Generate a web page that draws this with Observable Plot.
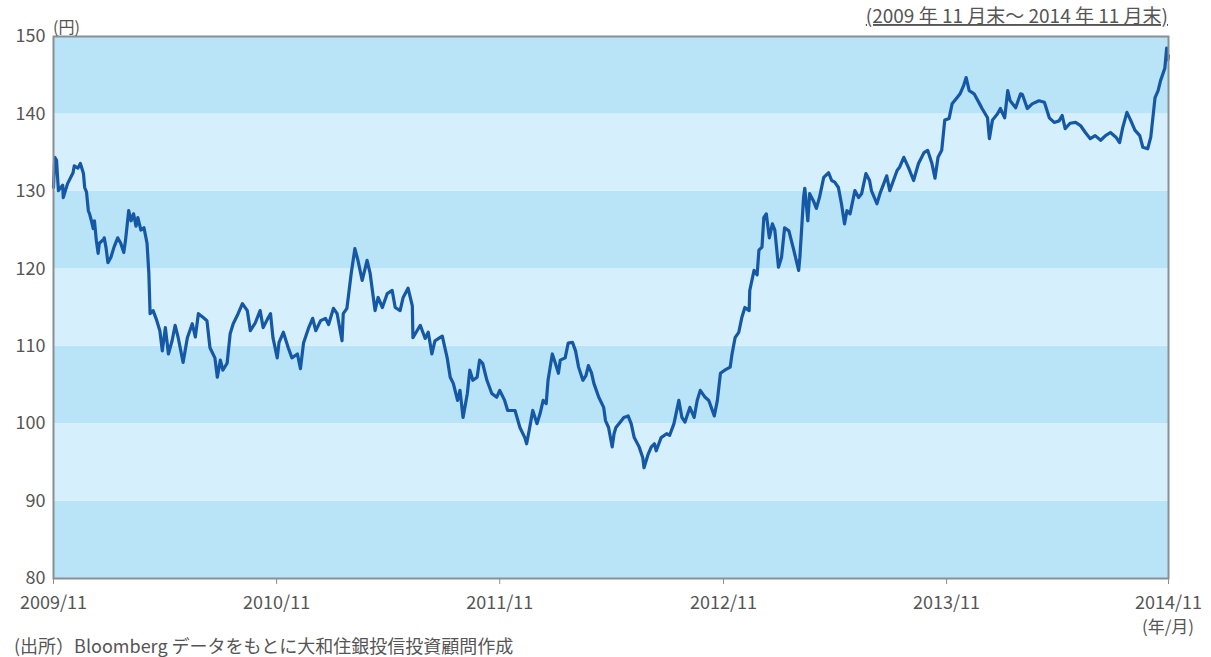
<!DOCTYPE html>
<html>
<head>
<meta charset="utf-8">
<script src="https://cdn.jsdelivr.net/npm/d3@7"></script>
<script src="https://cdn.jsdelivr.net/npm/@observablehq/plot@0.6"></script>
<style>
  html, body { margin: 0; padding: 0; background: #fff; }
  #chart { width: 1211px; height: 657px; }
</style>
</head>
<body>
<div id="chart"></div>
<script>
// Dates and EUR/JPY values (円)
const dates = [
"2009-11-30","2009-12-02","2009-12-05","2009-12-08","2009-12-15","2009-12-16","2009-12-23","2010-01-01","2010-01-03","2010-01-09",
"2010-01-13","2010-01-18","2010-01-20","2010-01-23","2010-01-26","2010-01-28","2010-01-31","2010-02-03","2010-02-05","2010-02-08",
"2010-02-11","2010-02-13","2010-02-20","2010-02-21","2010-02-24","2010-02-27","2010-03-04","2010-03-09","2010-03-15","2010-03-20",
"2010-03-25","2010-03-28","2010-04-02","2010-04-06","2010-04-10","2010-04-14","2010-04-17","2010-04-22","2010-04-27","2010-05-02",
"2010-05-05","2010-05-07","2010-05-12","2010-05-18","2010-05-23","2010-05-27","2010-06-01","2010-06-06","2010-06-12","2010-06-17",
"2010-06-22","2010-06-30","2010-07-07","2010-07-15","2010-07-20","2010-07-25","2010-08-02","2010-08-08","2010-08-13","2010-08-21",
"2010-08-25","2010-08-30","2010-09-03","2010-09-10","2010-09-15","2010-09-20","2010-09-28","2010-10-05","2010-10-13","2010-10-18",
"2010-10-26","2010-11-03","2010-11-08","2010-11-15","2010-11-20","2010-11-24","2010-12-01","2010-12-04","2010-12-11","2010-12-19",
"2010-12-25","2011-01-03","2011-01-08","2011-01-13","2011-01-21","2011-01-28","2011-02-02","2011-02-10","2011-02-18","2011-02-23",
"2011-03-03","2011-03-09","2011-03-17","2011-03-19","2011-03-25","2011-04-01","2011-04-07","2011-04-12","2011-04-19","2011-04-27",
"2011-05-02","2011-05-10","2011-05-15","2011-05-22","2011-05-30","2011-06-07","2011-06-12","2011-06-20","2011-06-25","2011-07-03",
"2011-07-10","2011-07-11","2011-07-23","2011-07-31","2011-08-05","2011-08-11","2011-08-16","2011-08-24","2011-08-28","2011-09-05",
"2011-09-10","2011-09-15","2011-09-22","2011-09-26","2011-10-01","2011-10-08","2011-10-12","2011-10-17","2011-10-24","2011-10-28",
"2011-11-02","2011-11-09","2011-11-17","2011-11-25","2011-11-30","2011-12-08","2011-12-13","2011-12-25","2012-01-02","2012-01-10",
"2012-01-13","2012-01-18","2012-01-23","2012-01-30","2012-02-04","2012-02-09","2012-02-14","2012-02-17","2012-02-24","2012-02-29",
"2012-03-05","2012-03-08","2012-03-16","2012-03-21","2012-03-28","2012-04-02","2012-04-07","2012-04-14","2012-04-19","2012-04-23",
"2012-04-28","2012-05-02","2012-05-10","2012-05-18","2012-05-21","2012-05-26","2012-06-01","2012-06-04","2012-06-07","2012-06-12",
"2012-06-20","2012-06-27","2012-07-02","2012-07-07","2012-07-15","2012-07-21","2012-07-23","2012-07-30","2012-08-04","2012-08-09",
"2012-08-12","2012-08-20","2012-08-29","2012-09-03","2012-09-10","2012-09-18","2012-09-23","2012-09-28","2012-10-06","2012-10-13",
"2012-10-18","2012-10-23","2012-10-31","2012-11-06","2012-11-15","2012-11-20","2012-11-25","2012-12-02","2012-12-11","2012-12-14",
"2012-12-19","2012-12-25","2012-12-30","2013-01-04","2013-01-11","2013-01-12","2013-01-19","2013-01-24","2013-01-27","2013-02-01",
"2013-02-04","2013-02-08","2013-02-13","2013-02-18","2013-02-22","2013-02-28","2013-03-05","2013-03-10","2013-03-17","2013-03-25",
"2013-04-02","2013-04-04","2013-04-10","2013-04-12","2013-04-17","2013-04-20","2013-04-26","2013-05-01","2013-05-06","2013-05-13",
"2013-05-21","2013-05-26","2013-05-31","2013-06-06","2013-06-11","2013-06-16","2013-06-20","2013-06-25","2013-07-03","2013-07-09",
"2013-07-14","2013-07-21","2013-07-27","2013-07-30","2013-08-08","2013-08-13","2013-08-24","2013-08-29","2013-09-10","2013-09-14",
"2013-09-21","2013-09-29","2013-10-07","2013-10-15","2013-10-24","2013-10-30","2013-11-06","2013-11-11","2013-11-16","2013-11-22",
"2013-11-27","2013-12-04","2013-12-09","2013-12-17","2013-12-22","2013-12-28","2014-01-01","2014-01-06","2014-01-14","2014-01-23",
"2014-01-27","2014-02-05","2014-02-08","2014-02-13","2014-02-21","2014-02-26","2014-03-05","2014-03-10","2014-03-14","2014-03-23",
"2014-03-31","2014-04-03","2014-04-11","2014-04-19","2014-04-30","2014-05-09","2014-05-17","2014-05-25","2014-06-02","2014-06-07",
"2014-06-12","2014-06-20","2014-06-29","2014-07-07","2014-07-15","2014-07-23","2014-07-31","2014-08-09","2014-08-17","2014-08-25",
"2014-09-03","2014-09-09","2014-09-14","2014-09-21","2014-09-27","2014-10-04","2014-10-12","2014-10-17","2014-10-25","2014-10-30",
"2014-11-06","2014-11-11","2014-11-15","2014-11-22","2014-11-25","2014-11-27","2014-11-28"
];
const values = [
130.5,134.4,134.0,130.1,130.8,129.2,131.0,132.4,133.3,133.0,
133.6,132.3,130.5,129.9,127.5,127.1,126.2,125.2,126.2,123.7,
122.0,123.3,123.8,124.0,122.7,120.8,121.5,122.8,124.0,123.3,
122.1,123.8,127.5,126.2,127.1,125.5,126.6,125.0,125.3,123.3,
119.4,114.2,114.6,113.3,112.0,109.4,112.4,109.0,110.7,112.7,
111.1,107.9,111.1,112.9,111.2,114.2,113.7,113.3,109.8,108.5,
106.0,108.2,106.9,107.8,111.6,112.9,114.2,115.5,114.6,112.0,
113.0,114.6,112.4,113.5,114.2,111.1,108.5,110.5,111.8,109.8,
108.5,109.0,107.1,110.4,112.3,113.6,112.0,113.3,113.6,112.8,
114.9,114.2,110.7,114.2,114.9,119.4,122.6,121.1,118.5,121.1,
119.4,114.6,116.3,115.0,116.8,117.2,115.0,114.6,116.3,117.5,
115.2,111.1,112.7,111.0,111.8,109.0,110.7,111.1,111.3,108.5,
106.0,105.2,103.0,104.3,100.8,103.9,106.9,105.6,106.0,108.2,
107.8,105.6,103.9,103.4,104.3,103.0,101.7,101.7,99.5,98.2,
97.4,99.5,101.7,100.0,101.3,103.0,102.6,105.6,109.0,107.8,
106.5,108.2,108.5,110.4,110.5,109.4,107.3,105.6,106.2,107.5,
106.6,105.2,103.4,102.1,100.4,99.5,97.0,98.7,99.5,100.0,
100.8,101.0,100.0,98.2,97.0,95.6,94.3,96.1,97.0,97.4,
96.5,98.2,98.7,98.5,100.0,103.0,100.8,100.2,102.1,100.8,
103.0,104.3,103.4,103.0,101.0,103.0,106.5,106.9,107.3,109.0,
111.1,111.8,113.7,115.0,114.6,117.2,119.8,119.2,122.4,122.8,
126.6,127.1,124.0,125.8,125.0,120.2,121.5,125.3,124.9,122.4,
119.8,121.5,129.2,130.4,126.2,129.7,128.8,127.8,129.2,131.8,
132.4,131.4,131.2,130.5,128.4,125.8,127.5,127.1,130.1,129.2,
129.7,132.3,131.4,130.1,128.4,129.7,132.0,130.1,132.7,133.1,
134.4,133.0,131.4,133.6,135.0,135.3,133.6,131.7,134.4,135.3,
139.2,139.4,141.3,142.1,142.6,143.7,144.7,143.0,142.6,141.3,
140.7,139.5,136.8,139.2,140.0,140.7,139.5,143.0,141.7,140.8,
142.6,142.5,140.7,141.3,141.7,141.5,139.5,138.9,139.1,139.8,
138.1,138.8,138.9,138.5,137.6,136.8,137.2,136.6,137.2,137.6,
137.0,136.3,138.2,140.2,139.2,137.9,137.2,135.7,135.5,137.0,
142.1,143.0,144.3,145.9,148.5,147.0,147.5
];
const yTicks = [80, 90, 100, 110, 120, 130, 140, 150];
const xTickLabels = ["2009/11", "2010/11", "2011/11", "2012/11", "2013/11", "2014/11"];
const bandLows = [80, 90, 100, 110, 120, 130, 140];
const unitLabel = "(円)";
const periodLabel = "(2009 年 11 月末～ 2014 年 11 月末)";
const axisUnitLabel = "(年/月)";
const sourceLabel = "(出所）Bloomberg データをもとに大和住銀投信投資顧問作成";

const parse = d3.utcParse("%Y-%m-%d");
const series = dates.map((d, i) => ({date: parse(d), value: values[i]}));
const bands = bandLows.map((lo, i) => ({lo, hi: lo + 10, dark: i % 2 === 0}));
const parseTick = d3.utcParse("%Y/%m");
const xTicks = xTickLabels.map((s, i) => i === 0 ? parse("2009-11-30") : (i === xTickLabels.length - 1 ? parse("2014-11-28") : d3.utcDay.offset(parseTick(s), 29)));
const tickLabelMap = new Map(xTicks.map((d, i) => [+d, xTickLabels[i]]));

const font = "'Noto Sans CJK JP', 'Noto Sans', sans-serif";

const chart = Plot.plot({
  width: 1211,
  height: 657,
  marginLeft: 53,
  marginRight: 43,
  marginTop: 36,
  marginBottom: 79,
  style: {fontFamily: font, background: "#fff", color: "#555"},
  x: {type: "utc", domain: [parse("2009-11-30"), parse("2014-11-28")]},
  y: {domain: [80, 150]},
  marks: [
    Plot.rect(bands, {y1: "lo", y2: "hi", fill: d => d.dark ? "#b9e3f7" : "#d5effc"}),
    Plot.line(series, {x: "date", y: "value", stroke: "#1558a6", strokeWidth: 3.2, strokeLinejoin: "round"}),
    Plot.frame({stroke: "#8a8f94", strokeWidth: 2}),
    Plot.axisY({ticks: yTicks, tickSize: 0, tickPadding: 8, fontSize: 18, fill: "#555", label: null}),
    Plot.axisX({ticks: xTicks, tickSize: 6, tickPadding: 12, stroke: "#8a8f94", fontSize: 18, fill: "#555", label: null,
      tickFormat: d => tickLabelMap.get(+d)})
  ]
});

const svg = d3.select(chart);
svg.append("text").attr("x", 53).attr("y", 33).attr("text-anchor", "start").attr("font-size", 16).attr("fill", "#555")
  .attr("font-family", font).text(unitLabel);
svg.append("text").attr("x", 1168).attr("y", 23).attr("text-anchor", "end").attr("font-size", 19).attr("fill", "#555")
  .attr("font-family", font).attr("text-decoration", "underline").text(periodLabel);
svg.append("text").attr("x", 1168).attr("y", 633).attr("text-anchor", "middle").attr("font-size", 17).attr("fill", "#555")
  .attr("font-family", font).text(axisUnitLabel);
svg.append("text").attr("x", 14).attr("y", 653).attr("text-anchor", "start").attr("font-size", 18).attr("fill", "#555")
  .attr("font-family", font).text(sourceLabel);

document.getElementById("chart").appendChild(chart);
</script>
</body>
</html>
